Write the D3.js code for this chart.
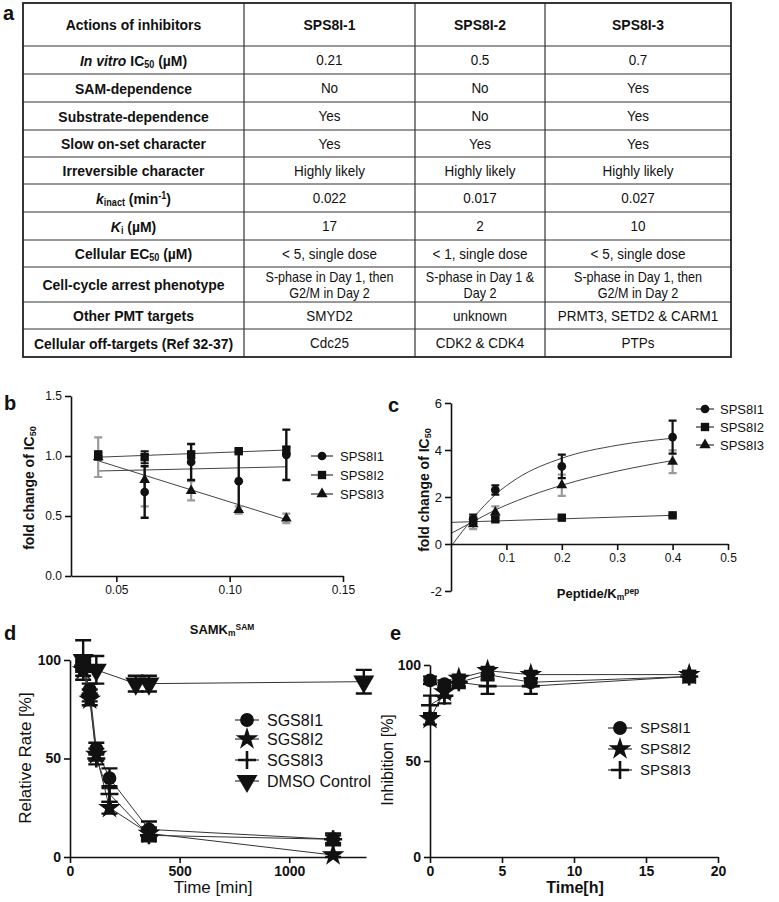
<!DOCTYPE html>
<html>
<head>
<meta charset="utf-8">
<script src="https://cdn.jsdelivr.net/npm/d3@7"></script>
<style>
  body { margin: 0; background: #fff; }
  text { font-family: "Liberation Sans", Arial, sans-serif; fill: #111; }
</style>
</head>
<body>
<svg id="fig" width="779" height="902"></svg>
<script>
// ---- table (panel a) ----
const tableHeader = ["Actions of inhibitors", "SPS8I-1", "SPS8I-2", "SPS8I-3"];
const rowLabels = [
  "*In vitro* IC_{50} (µM)", "SAM-dependence", "Substrate-dependence", "Slow on-set character",
  "Irreversible character", "*k*_{inact} (min^{-1})", "*K*_{i} (µM)", "Cellular EC_{50} (µM)",
  "Cell-cycle arrest phenotype", "Other PMT targets", "Cellular off-targets (Ref 32-37)"
];
const colSPS8I1 = ["0.21", "No", "Yes", "Yes", "Highly likely", "0.022", "17", "< 5, single dose",
  "S-phase in Day 1, then\nG2/M in Day 2", "SMYD2", "Cdc25"];
const colSPS8I2 = ["0.5", "No", "No", "Yes", "Highly likely", "0.017", "2", "< 1, single dose",
  "S-phase in Day 1 &\nDay 2", "unknown", "CDK2 & CDK4"];
const colSPS8I3 = ["0.7", "Yes", "Yes", "Yes", "Highly likely", "0.027", "10", "< 5, single dose",
  "S-phase in Day 1, then\nG2/M in Day 2", "PRMT3, SETD2 & CARM1", "PTPs"];

// ---- panel b ----
const bX = [0.042, 0.0625, 0.083, 0.104, 0.125];
const bSPS8I1 = [1.0, 0.70, 0.95, 0.79, 1.01];
const bSPS8I1Err = [0.03, 0.215, 0.15, 0.25, 0.21];
const bSPS8I2 = [1.01, 0.99, 1.01, 1.04, 1.05];
const bSPS8I2Err = [0.03, 0.05, 0.03, 0.02, 0.03];
const bSPS8I3 = [0.99, 0.80, 0.71, 0.55, 0.48];
const bSPS8I3Err = [0.165, 0.22, 0.08, 0.03, 0.04];
const bFitX = [0.042, 0.125];
const bFit1 = [0.875, 0.91];
const bFit2 = [0.99, 1.05];
const bFit3 = [0.96, 0.47];

// ---- panel c ----
const cX = [0.04, 0.08, 0.2, 0.4];
const cSPS8I1 = [1.05, 2.3, 3.3, 4.55];
const cSPS8I1Err = [0.2, 0.2, 0.5, 0.7];
const cSPS8I2 = [1.0, 1.05, 1.12, 1.22];
const cSPS8I2Err = [0.1, 0.08, 0.05, 0.05];
const cSPS8I3 = [0.85, 1.35, 2.5, 3.5];
const cSPS8I3Err = [0.22, 0.25, 0.45, 0.48];
const cFitX = [0, 0.04, 0.08, 0.12, 0.2, 0.3, 0.4];
const cFit1 = [-0.1, 1.1, 2.1, 2.8, 3.65, 4.2, 4.5];
const cFit3 = [0.45, 0.95, 1.45, 1.85, 2.5, 3.1, 3.55];
const cFit2X = [0, 0.4];
const cFit2 = [0.92, 1.22];

// ---- panel d ----
const dX = [60, 90, 120, 180, 360, 1200];
const dSGS8I1 = [97, 85, 55, 40, 14, 9];
const dSGS8I1Err = [2, 3, 3, 5, 4, 3];
const dSGS8I2 = [95, 80, 52, 25, 12, 1];
const dSGS8I2Err = [3, 3, 3, 3, 3, 1];
const dSGS8I3 = [97, 82, 50, 32, 11, 9];
const dSGS8I3Err = [3, 3, 3, 4, 3, 2];
const dDmsoX = [60, 120, 300, 360, 1340];
const dDmso = [100, 95, 88, 88, 89];
const dDmsoErr = [10, 7, 4, 4, 6];

// ---- panel e ----
const eX = [0, 1, 2, 4, 7, 18];
const eSPS8I1 = [92, 90, 91, 95, 91, 94];
const eSPS8I1Err = [2, 2, 2, 3, 2, 2];
const eSPS8I2 = [72, 86, 93, 97, 95, 95];
const eSPS8I2Err = [3, 3, 2, 2, 2, 2];
const eSPS8I3 = [79, 84, 91, 89, 89, 94];
const eSPS8I3Err = [5, 4, 3, 4, 4, 3];

const svg = d3.select("#fig");

// tiny markup: *italic*, _{sub}, ^{sup}
function rich(textSel, str) {
  const parts = str.split(/(\*[^*]+\*|_\{[^}]+\}|\^\{[^}]+\})/).filter(p => p.length);
  parts.forEach(p => {
    const t = textSel.append("tspan");
    if (p.startsWith("*")) {
      t.attr("font-style", "italic").text(p.slice(1, -1));
    } else if (p.startsWith("_{")) {
      t.attr("font-size", "65%").attr("baseline-shift", "-20%").text(p.slice(2, -1));
    } else if (p.startsWith("^{")) {
      t.attr("font-size", "65%").attr("baseline-shift", "45%").text(p.slice(2, -1));
    } else {
      t.text(p);
    }
  });
}

// ---------- table ----------
function drawTable() {
  const g = svg.append("g");
  const colX = [23, 244, 415, 545, 731];
  const rowY = [3, 46, 74, 102, 130, 157, 184, 212, 240, 267, 302, 329, 357];
  const rows = [tableHeader].concat(rowLabels.map((l, i) => [l, colSPS8I1[i], colSPS8I2[i], colSPS8I3[i]]));

  rows.forEach((r, ri) => {
    const y0 = rowY[ri], y1 = rowY[ri + 1];
    r.forEach((cell, ci) => {
      const cx = (colX[ci] + colX[ci + 1]) / 2;
      const lines = cell.split("\n");
      const lh = 16;
      const bold = ri === 0 || ci === 0;
      const fs = lines.length > 1 ? 14 : (bold ? 15.5 : 15);
      lines.forEach((ln, li) => {
        const cy = (y0 + y1) / 2 + (li - (lines.length - 1) / 2) * lh;
        // narrow look: squeeze glyphs horizontally
        const t = g.append("text")
          .attr("transform", `translate(${cx},${cy}) scale(0.9,1)`)
          .attr("dy", "0.36em")
          .attr("text-anchor", "middle")
          .attr("font-size", fs)
          .attr("font-weight", bold ? "bold" : "normal");
        rich(t, ln);
      });
    });
  });

  rowY.slice(1, -1).forEach(y => {
    g.append("line").attr("x1", colX[0]).attr("x2", colX[4]).attr("y1", y).attr("y2", y)
      .attr("stroke", "#333").attr("stroke-width", 1.2);
  });
  colX.slice(1, -1).forEach(x => {
    g.append("line").attr("x1", x).attr("x2", x).attr("y1", rowY[0]).attr("y2", rowY[rowY.length - 1])
      .attr("stroke", "#333").attr("stroke-width", 1.2);
  });
  g.append("rect").attr("x", colX[0]).attr("y", rowY[0])
    .attr("width", colX[4] - colX[0]).attr("height", rowY[rowY.length - 1] - rowY[0])
    .attr("fill", "none").attr("stroke", "#222").attr("stroke-width", 1.8);
}

// ---------- markers ----------
function marker(g, type, x, y, size, color) {
  color = color || "#111";
  if (type === "plus") {
    g.append("path")
      .attr("d", `M${x - size},${y}H${x + size}M${x},${y - size}V${y + size}`)
      .attr("stroke", color).attr("stroke-width", 2.6).attr("fill", "none");
    return;
  }
  const types = {
    circle: d3.symbolCircle, square: d3.symbolSquare, triangle: d3.symbolTriangle,
    star: d3.symbolStar, tridown: d3.symbolTriangle
  };
  g.append("path")
    .attr("d", d3.symbol().type(types[type]).size(size)())
    .attr("transform", `translate(${x},${y})` + (type === "tridown" ? " rotate(180)" : ""))
    .attr("fill", color);
}

function series(g, x, y, xs, ys, errs, opt) {
  if (opt.line) {
    g.append("path")
      .datum(xs.map((v, i) => [v, ys[i]]))
      .attr("d", d3.line().x(d => x(d[0])).y(d => y(d[1])))
      .attr("fill", "none").attr("stroke", "#333").attr("stroke-width", 1);
  }
  if (errs) {
    xs.forEach((v, i) => {
      const px = x(v), lo = y(ys[i] - errs[i]), hi = y(ys[i] + errs[i]);
      const w = opt.cap;
      g.append("path")
        .attr("d", `M${px},${lo}V${hi}M${px - w},${lo}H${px + w}M${px - w},${hi}H${px + w}`)
        .attr("stroke", opt.errColor || "#111").attr("stroke-width", opt.errWidth || 2)
        .attr("fill", "none");
    });
  }
}

function markers(g, x, y, xs, ys, type, size) {
  xs.forEach((v, i) => marker(g, type, x(v), y(ys[i]), size));
}

function fitLine(g, x, y, xs, ys, curve) {
  g.append("path")
    .datum(xs.map((v, i) => [v, ys[i]]))
    .attr("d", d3.line().x(d => x(d[0])).y(d => y(d[1])).curve(curve || d3.curveLinear))
    .attr("fill", "none").attr("stroke", "#444").attr("stroke-width", 1);
}

function styleAxis(a, fs, bold) {
  a.selectAll("path, line").attr("stroke", "#111").attr("stroke-width", 1.6);
  a.selectAll("text").attr("font-size", fs).attr("font-weight", bold ? "bold" : "normal")
    .attr("fill", "#111").attr("font-family", "Liberation Sans, Arial, sans-serif");
}

function legend(g, items, lx, tx, ys, fs, halfLen) {
  items.forEach((it, i) => {
    g.append("line").attr("x1", lx - halfLen).attr("x2", lx + halfLen)
      .attr("y1", ys[i]).attr("y2", ys[i]).attr("stroke", "#333").attr("stroke-width", 1.2);
    marker(g, it.type, lx, ys[i], it.size);
    g.append("text").attr("x", tx).attr("y", ys[i]).attr("dy", "0.36em")
      .attr("font-size", fs).text(it.name);
  });
}

function panelLabel(txt, x, y) {
  svg.append("text").attr("x", x).attr("y", y).attr("font-size", 20).attr("font-weight", "bold")
    .attr("font-family", "Liberation Sans, Arial, sans-serif").text(txt);
}

// ---------- panel b ----------
function drawB() {
  const g = svg.append("g");
  const x = d3.scaleLinear().domain([0.03, 0.15]).range([71, 343]);
  const y = d3.scaleLinear().domain([0, 1.5]).range([576, 396]);

  fitLine(g, x, y, bFitX, bFit1);
  fitLine(g, x, y, bFitX, bFit2);
  fitLine(g, x, y, bFitX, bFit3);
  series(g, x, y, bX, bSPS8I3, bSPS8I3Err, { cap: 4, errColor: "#9a9a9a", errWidth: 2.2 });
  series(g, x, y, bX, bSPS8I1, bSPS8I1Err, { cap: 4, errWidth: 2.4 });
  series(g, x, y, bX, bSPS8I2, bSPS8I2Err, { cap: 4, errWidth: 2 });
  markers(g, x, y, bX, bSPS8I3, "triangle", 50);
  markers(g, x, y, bX, bSPS8I1, "circle", 60);
  markers(g, x, y, bX, bSPS8I2, "square", 70);

  const ax = g.append("g").attr("transform", "translate(0,576)")
    .call(d3.axisBottom(x).tickValues([0.05, 0.10, 0.15]).tickFormat(d3.format(".2f")).tickSize(6).tickSizeOuter(0));
  styleAxis(ax, 12, false);
  const ay = g.append("g").attr("transform", "translate(71,0)")
    .call(d3.axisLeft(y).tickValues([0, 0.5, 1.0, 1.5]).tickFormat(d3.format(".1f")).tickSize(6).tickSizeOuter(0));
  styleAxis(ay, 12, false);

  const yt = g.append("text").attr("transform", "translate(34,488) rotate(-90)")
    .attr("text-anchor", "middle").attr("font-size", 14).attr("font-weight", "bold");
  rich(yt, "fold change of IC_{50}");
  const xt = g.append("text").attr("x", 222).attr("y", 634)
    .attr("text-anchor", "middle").attr("font-size", 13).attr("font-weight", "bold");
  rich(xt, "SAMK_{m}^{SAM}");

  legend(g, [{ name: "SPS8I1", type: "circle", size: 60 }, { name: "SPS8I2", type: "square", size: 70 },
    { name: "SPS8I3", type: "triangle", size: 55 }],
    322, 340, [456, 475, 494], 13, 11);
}

// ---------- panel c ----------
function drawC() {
  const g = svg.append("g");
  const x = d3.scaleLinear().domain([0, 0.5]).range([451, 728]);
  const y = d3.scaleLinear().domain([-2, 6]).range([591, 403]);

  fitLine(g, x, y, cFitX, cFit1, d3.curveMonotoneX);
  fitLine(g, x, y, cFitX, cFit3, d3.curveMonotoneX);
  fitLine(g, x, y, cFit2X, cFit2);
  series(g, x, y, cX, cSPS8I3, cSPS8I3Err, { cap: 4, errColor: "#9a9a9a", errWidth: 2.2 });
  series(g, x, y, cX, cSPS8I1, cSPS8I1Err, { cap: 4, errWidth: 2.2 });
  series(g, x, y, cX, cSPS8I2, cSPS8I2Err, { cap: 4, errWidth: 2 });
  markers(g, x, y, cX, cSPS8I3, "triangle", 50);
  markers(g, x, y, cX, cSPS8I1, "circle", 60);
  markers(g, x, y, cX, cSPS8I2, "square", 70);

  const ax = g.append("g").attr("transform", `translate(0,${y(0)})`)
    .call(d3.axisBottom(x).tickValues([0.1, 0.2, 0.3, 0.4, 0.5]).tickFormat(d3.format(".1f")).tickSize(6).tickSizeOuter(0));
  styleAxis(ax, 12, false);
  const ay = g.append("g").attr("transform", "translate(451,0)")
    .call(d3.axisLeft(y).tickValues([-2, 0, 2, 4, 6]).tickFormat(d => String(d)).tickSize(6).tickSizeOuter(0));
  styleAxis(ay, 13, false);

  const yt = g.append("text").attr("transform", "translate(429,490) rotate(-90)")
    .attr("text-anchor", "middle").attr("font-size", 14).attr("font-weight", "bold");
  rich(yt, "fold change of IC_{50}");
  const xt = g.append("text").attr("x", 598).attr("y", 598)
    .attr("text-anchor", "middle").attr("font-size", 13).attr("font-weight", "bold");
  rich(xt, "Peptide/K_{m}^{pep}");

  legend(g, [{ name: "SPS8I1", type: "circle", size: 60 }, { name: "SPS8I2", type: "square", size: 70 },
    { name: "SPS8I3", type: "triangle", size: 55 }],
    705, 720, [409, 427, 445], 13, 9);
}

// ---------- panel d ----------
function drawD() {
  const g = svg.append("g");
  const x = d3.scaleLinear().domain([0, 1350]).range([70, 366]);
  const y = d3.scaleLinear().domain([0, 100]).range([857, 660]);

  series(g, x, y, dDmsoX, dDmso, dDmsoErr, { line: true, cap: 8, errWidth: 2.4 });
  series(g, x, y, dX, dSGS8I1, dSGS8I1Err, { line: true, cap: 8, errWidth: 2.4 });
  series(g, x, y, dX, dSGS8I2, dSGS8I2Err, { line: true, cap: 8, errWidth: 2.4 });
  series(g, x, y, dX, dSGS8I3, dSGS8I3Err, { line: true, cap: 8, errWidth: 2.4 });
  markers(g, x, y, dDmsoX, dDmso, "tridown", 190);
  markers(g, x, y, dX, dSGS8I1, "circle", 150);
  markers(g, x, y, dX, dSGS8I2, "star", 160);
  markers(g, x, y, dX, dSGS8I3, "plus", 9);

  const ax = g.append("g").attr("transform", "translate(0,857)")
    .call(d3.axisBottom(x).tickValues([0, 500, 1000]).tickFormat(d3.format("d")).tickSize(6).tickSizeOuter(0));
  styleAxis(ax, 14, true);
  const ay = g.append("g").attr("transform", "translate(70,0)")
    .call(d3.axisLeft(y).tickValues([0, 50, 100]).tickSize(6).tickSizeOuter(0));
  styleAxis(ay, 14, true);

  g.append("text").attr("transform", "translate(31,758) rotate(-90)")
    .attr("text-anchor", "middle").attr("font-size", 17).text("Relative Rate [%]");
  g.append("text").attr("x", 213).attr("y", 893)
    .attr("text-anchor", "middle").attr("font-size", 17).text("Time [min]");

  legend(g, [{ name: "SGS8I1", type: "circle", size: 150 }, { name: "SGS8I2", type: "star", size: 160 },
    { name: "SGS8I3", type: "plus", size: 9 }, { name: "DMSO Control", type: "tridown", size: 190 }],
    247, 267, [720, 739, 760, 781], 16, 12);
}

// ---------- panel e ----------
function drawE() {
  const g = svg.append("g");
  const x = d3.scaleLinear().domain([0, 20]).range([430, 718]);
  const y = d3.scaleLinear().domain([0, 100]).range([857, 665]);

  series(g, x, y, eX, eSPS8I1, eSPS8I1Err, { line: true, cap: 7, errWidth: 2.2 });
  series(g, x, y, eX, eSPS8I2, eSPS8I2Err, { line: true, cap: 7, errWidth: 2.2 });
  series(g, x, y, eX, eSPS8I3, eSPS8I3Err, { line: true, cap: 7, errWidth: 2.2 });
  markers(g, x, y, eX, eSPS8I1, "circle", 150);
  markers(g, x, y, eX, eSPS8I2, "star", 160);
  markers(g, x, y, eX, eSPS8I3, "plus", 9);

  const ax = g.append("g").attr("transform", "translate(0,857)")
    .call(d3.axisBottom(x).tickValues([0, 5, 10, 15, 20]).tickSize(6).tickSizeOuter(0));
  styleAxis(ax, 14, true);
  const ay = g.append("g").attr("transform", "translate(430,0)")
    .call(d3.axisLeft(y).tickValues([0, 50, 100]).tickSize(6).tickSizeOuter(0));
  styleAxis(ay, 14, true);

  g.append("text").attr("transform", "translate(393,760) rotate(-90)")
    .attr("text-anchor", "middle").attr("font-size", 16).text("Inhibition [%]");
  g.append("text").attr("x", 575).attr("y", 893)
    .attr("text-anchor", "middle").attr("font-size", 16).attr("font-weight", "bold").text("Time[h]");

  legend(g, [{ name: "SPS8I1", type: "circle", size: 150 }, { name: "SPS8I2", type: "star", size: 160 },
    { name: "SPS8I3", type: "plus", size: 9 }],
    620, 640, [728, 749, 770], 15, 12);
}

drawTable();
drawB();
drawC();
drawD();
drawE();
panelLabel("a", 3, 20);
panelLabel("b", 4, 410);
panelLabel("c", 388, 412);
panelLabel("d", 4, 640);
panelLabel("e", 390, 640);
</script>
</body>
</html>
